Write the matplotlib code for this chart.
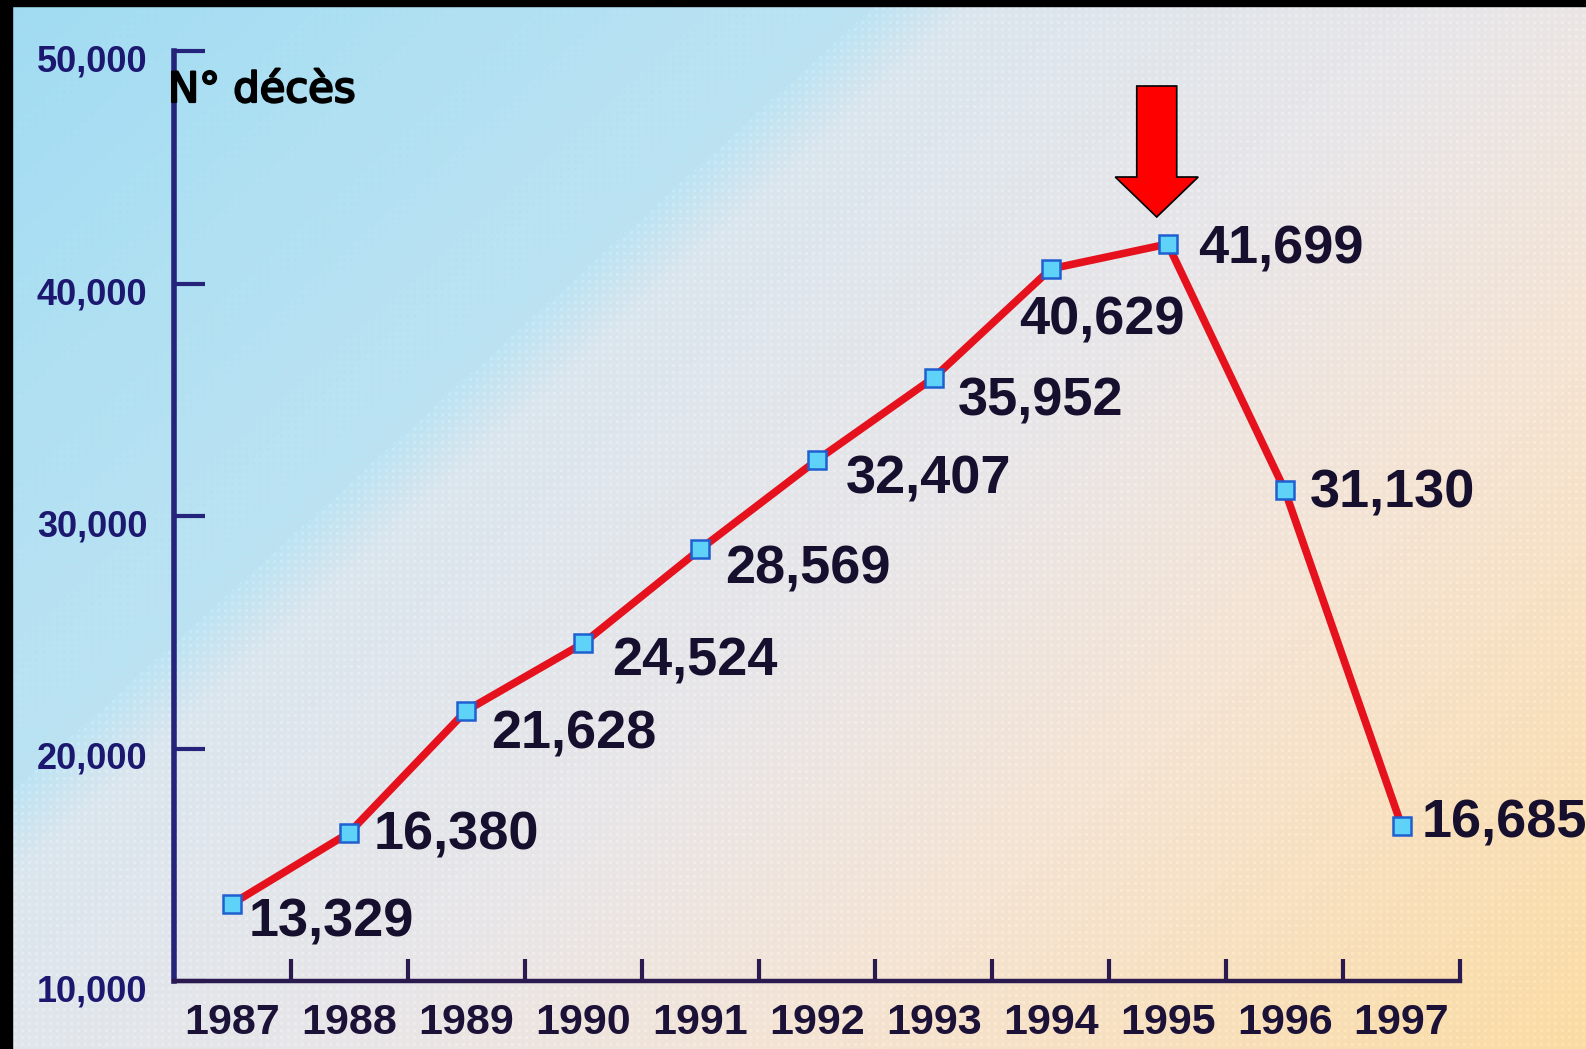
import numpy as np
import matplotlib

matplotlib.use("Agg")
import matplotlib.pyplot as plt  # noqa: E402
import matplotlib.patheffects as pe  # noqa: E402
from matplotlib.patches import Polygon, Rectangle  # noqa: E402
from matplotlib.transforms import IdentityTransform, ScaledTranslation  # noqa: E402

YEARS = ["1987", "1988", "1989", "1990", "1991", "1992",
         "1993", "1994", "1995", "1996", "1997"]
DEATHS = [13329, 16380, 21628, 24524, 28569, 32407,
          35952, 40629, 41699, 31130, 16685]
Y_TICKS = [10000, 20000, 30000, 40000, 50000]
Y_LABEL = "N° décès"
PEAK_YEAR = "1995"

# where each value label sits relative to its marker (pixels, x right / y up,
# measured to the middle of the digits)
LABEL_OFFSETS = [(16, -14), (24, 3), (25, -18), (29, -13), (25, -15),
                 (29, -14), (24, -18), (-32, -46), (30, 0), (25, 2), (20, 7)]

W, H, DPI = 1586, 1049, 100
LINE_RED = "#e5121e"
NAVY = "#26237a"
INK = "#16102e"


def background(w, h):
    """Diagonal sky-blue -> grey -> peach wash with a light halftone."""
    yy, xx = np.mgrid[0:h, 0:w]
    d = xx + 1.1 * yy
    stops = [0, 450, 880, 980, 1500, 2000, 2750]
    cols = np.array([
        [0.63, 0.86, 0.95],
        [0.69, 0.88, 0.95],
        [0.74, 0.89, 0.95],
        [0.86, 0.90, 0.93],
        [0.91, 0.90, 0.91],
        [0.96, 0.89, 0.82],
        [0.98, 0.86, 0.64],
    ])
    img = np.empty((h, w, 3))
    for c in range(3):
        img[..., c] = np.interp(d, stops, cols[:, c])

    dots = ((xx % 7) < 3) & ((yy % 7) < 3)
    blue = dots & (d < 880)
    light = dots & (d >= 880)
    img[blue] = img[blue] * 0.94 + np.array([0.45, 0.85, 0.95]) * 0.06
    img[light] = np.clip(img[light] + 0.025, 0, 1)
    return img


fig = plt.figure(figsize=(W / DPI, H / DPI), dpi=DPI)

bg = fig.add_axes([0, 0, 1, 1], zorder=0)
bg.imshow(background(W, H), extent=(0, W, H, 0), aspect="auto",
          interpolation="bilinear")
bg.set_xlim(0, W)
bg.set_ylim(H, 0)
bg.axis("off")
# black frame strips along the top and left edges
bg.add_patch(Rectangle((0, 0), W, 6, color="black"))
bg.add_patch(Rectangle((0, 0), 12, H, color="black"))

ax = fig.add_axes([174 / W, 1 - 981 / H, (1460 - 174) / W, (981 - 51) / H],
                  zorder=1)
ax.set_facecolor("none")

x = np.arange(len(YEARS))
ax.plot(x, DEATHS, color=LINE_RED, linewidth=5.5, zorder=3,
        solid_capstyle="round")
ax.plot(x, DEATHS, linestyle="none", marker="s", markersize=12.5,
        markerfacecolor="#5fd2f8", markeredgecolor="#1f5fd0",
        markeredgewidth=1.8, zorder=4)

ax.set_xlim(-0.5, len(YEARS) - 0.5)
ax.set_ylim(Y_TICKS[0], Y_TICKS[-1])

for side in ("top", "right"):
    ax.spines[side].set_visible(False)
ax.spines["left"].set_color(NAVY)
ax.spines["left"].set_linewidth(4)
ax.spines["bottom"].set_color("#2a1a50")
ax.spines["bottom"].set_linewidth(3.2)

# y axis: inward ticks, labels sitting a little below each tick
ax.set_yticks(Y_TICKS)
ax.set_yticklabels([f"{v:,}" for v in Y_TICKS])
ax.tick_params(axis="y", direction="in", length=22, width=3, color=NAVY,
               pad=19, labelsize=26, labelcolor="#1c1870")
shift = ScaledTranslation(0, -7 / DPI, fig.dpi_scale_trans)
for lab in ax.get_yticklabels():
    lab.set_fontweight("bold")
    lab.set_fontfamily("Liberation Sans")
    lab.set_transform(lab.get_transform() + shift)

# x axis: ticks between years, year names centred under each year
ax.set_xticks(np.arange(0.5, len(YEARS), 1.0))
ax.set_xticklabels([])
ax.tick_params(axis="x", which="major", direction="in", length=16,
               width=3, color="#2a1a50")
ax.set_xticks(x, minor=True)
ax.set_xticklabels(YEARS, minor=True)
ax.tick_params(axis="x", which="minor", length=0, pad=16, labelsize=31,
               labelcolor="#1c1238")
for lab in ax.get_xticklabels(minor=True):
    lab.set_fontweight("bold")
    lab.set_fontfamily("Liberation Sans")

# value labels
label_size = 39
cap_px = 0.716 * label_size * DPI / 72
for xi, v, (dx, dy) in zip(x, DEATHS, LABEL_OFFSETS):
    ax.annotate(f"{v:,}", xy=(xi, v), xytext=(dx, dy - cap_px / 2),
                textcoords="offset pixels", ha="left", va="baseline",
                fontsize=label_size, fontweight="bold",
                fontfamily="Liberation Sans", color=INK, zorder=5)

fig.text(168 / W, 1 - 102 / H, Y_LABEL, fontsize=30, color="black",
         family="DejaVu Sans", ha="left", va="baseline",
         path_effects=[pe.withStroke(linewidth=1.6, foreground="black")])

# red block arrow pointing down at the peak year
pk = YEARS.index(PEAK_YEAR)
px, py = ax.transData.transform((pk, DEATHS[pk]))
cx = px - 11
verts = [(cx - 20, py + 158), (cx + 20, py + 158), (cx + 20, py + 67),
         (cx + 41.5, py + 67), (cx, py + 27), (cx - 41.5, py + 67),
         (cx - 20, py + 67)]
fig.patches.append(Polygon(verts, closed=True, facecolor="#ff0000",
                           edgecolor="black", linewidth=1.2,
                           transform=IdentityTransform(), figure=fig,
                           zorder=6))

fig.savefig("out.png", dpi=DPI)
